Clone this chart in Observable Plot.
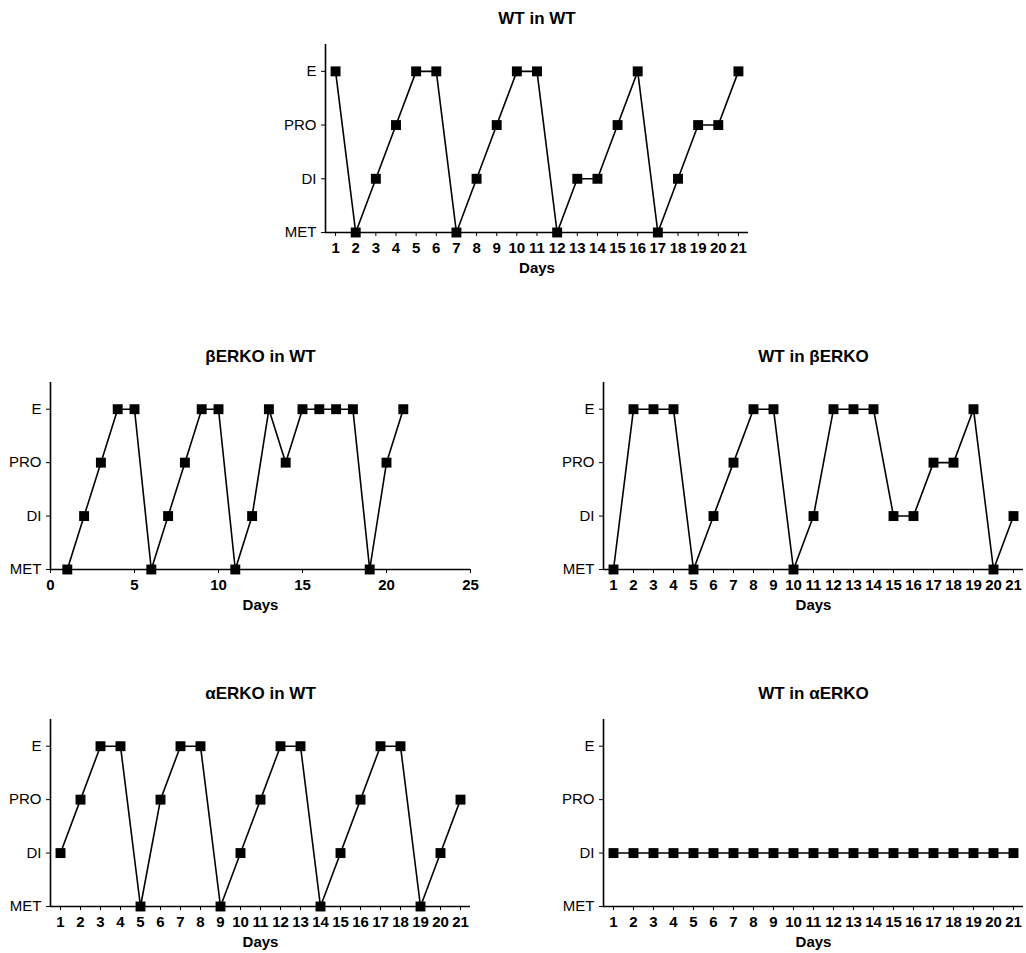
<!DOCTYPE html>
<html>
<head>
<meta charset="utf-8">
<script src="https://cdn.jsdelivr.net/npm/d3@7"></script>
<script src="https://cdn.jsdelivr.net/npm/@observablehq/plot@0.6"></script>
<style>
  html, body { margin: 0; padding: 0; background: #fff; }
  #root { position: relative; width: 1026px; height: 953px; overflow: hidden; font-family: "Liberation Sans", Arial, sans-serif; }
  .panel { position: absolute; }
</style>
</head>
<body>
<div id="root"></div>
<script>
// ---- data ----
const stageNames = ["MET", "DI", "PRO", "E"];
const days = [1,2,3,4,5,6,7,8,9,10,11,12,13,14,15,16,17,18,19,20,21];
const dayTicks = [1,2,3,4,5,6,7,8,9,10,11,12,13,14,15,16,17,18,19,20,21];
const linearTicks = [0,5,10,15,20,25];

const titles = ["WT in WT", "βERKO in WT", "WT in βERKO", "αERKO in WT", "WT in αERKO"];

const wtInWt = ["E","MET","DI","PRO","E","E","MET","DI","PRO","E","E","MET","DI","DI","PRO","E","MET","DI","PRO","PRO","E"];
const bErkoInWt = ["MET","DI","PRO","E","E","MET","DI","PRO","E","E","MET","DI","E","PRO","E","E","E","E","MET","PRO","E"];
const wtInBErko = ["MET","E","E","E","MET","DI","PRO","E","E","MET","DI","E","E","E","DI","DI","PRO","PRO","E","MET","DI"];
const aErkoInWt = ["DI","PRO","E","E","MET","PRO","E","E","MET","DI","PRO","E","E","MET","DI","PRO","E","E","MET","DI","PRO"];
const wtInAErko = ["DI","DI","DI","DI","DI","DI","DI","DI","DI","DI","DI","DI","DI","DI","DI","DI","DI","DI","DI","DI","DI"];

// ---- layout ----
const panels = [
  {title: titles[0], stages: wtInWt,    left: 275, top: 4,   plotW: 423, plotH: 188, xDomain: [0.5, 21.5], xTicks: dayTicks, mr: 8},
  {title: titles[1], stages: bErkoInWt, left: 0,   top: 342, plotW: 420, plotH: 187, xDomain: [0, 25],     xTicks: linearTicks, mr: 8},
  {title: titles[2], stages: wtInBErko, left: 553, top: 342, plotW: 420, plotH: 187, xDomain: [0.5, 21.5], xTicks: dayTicks, mr: 3},
  {title: titles[3], stages: aErkoInWt, left: 0,   top: 679, plotW: 420, plotH: 187, xDomain: [0.5, 21.5], xTicks: dayTicks, mr: 8},
  {title: titles[4], stages: wtInAErko, left: 553, top: 679, plotW: 420, plotH: 187, xDomain: [0.5, 21.5], xTicks: dayTicks, mr: 3}
];

const root = document.getElementById("root");
const ML = 50, MT = 40, MB = 50;

for (const p of panels) {
  const data = days.map((d, i) => ({day: d, v: stageNames.indexOf(p.stages[i])}));
  const chart = Plot.plot({
    width: ML + p.plotW + p.mr,
    height: MT + p.plotH + MB,
    marginLeft: ML, marginRight: p.mr, marginTop: MT, marginBottom: MB,
    style: {fontFamily: "'Liberation Sans', Arial, sans-serif", fontSize: "15px", color: "black", background: "white", overflow: "visible"},
    x: {domain: p.xDomain},
    y: {domain: [0, 3.5]},
    marks: [
      Plot.axisY({ticks: [0,1,2,3], tickFormat: i => stageNames[i], tickSize: 4, tickPadding: 5, fontSize: 15, label: null}),
      Plot.axisX({ticks: p.xTicks, tickFormat: d => String(d), tickSize: 4, tickPadding: 6, fontSize: 15, fontWeight: "bold", label: null}),
      Plot.ruleY([0], {stroke: "black", strokeWidth: 1.6}),
      Plot.ruleX([p.xDomain[0]], {stroke: "black", strokeWidth: 1.6}),
      Plot.line(data, {x: "day", y: "v", stroke: "black", strokeWidth: 1.6}),
      Plot.dot(data, {x: "day", y: "v", symbol: "square", fill: "black", stroke: "none", r: 5.6}),
      Plot.text(["Days"], {frameAnchor: "bottom", dy: 40, fontWeight: "bold", fontSize: 15, fill: "black"}),
      Plot.text([p.title], {frameAnchor: "top", dy: -33, fontWeight: "bold", fontSize: 17, fill: "black"})
    ]
  });
  const div = document.createElement("div");
  div.className = "panel";
  div.style.left = p.left + "px";
  div.style.top = p.top + "px";
  div.appendChild(chart);
  root.appendChild(div);
}
</script>
</body>
</html>
